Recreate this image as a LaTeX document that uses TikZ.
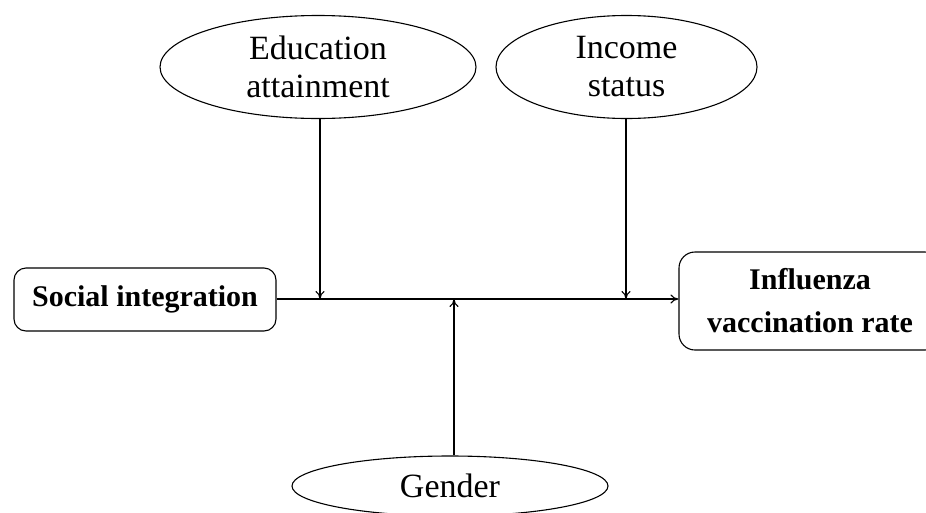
\documentclass[tikz,border=0pt]{standalone}
\usepackage{fontspec}
\setmainfont{Liberation Serif}
\usetikzlibrary{shapes.geometric,arrows.meta}
\begin{document}
\begin{tikzpicture}[x=1pt,y=-1pt,
  oval/.style={draw,ellipse,line width=1.1pt,inner sep=0pt,minimum width=316pt,minimum height=103pt,align=center,font=\fontsize{34}{38}\selectfont},
  rbox/.style={draw,rounded corners=12pt,line width=1.1pt,inner sep=0pt,align=center,font=\bfseries\fontsize{30}{43}\selectfont},
  conn/.style={line width=1.1pt},
  arr/.style={conn,-{To[length=8pt,width=9pt]}}]
\useasboundingbox (0,0) rectangle (926,512);
\node[oval] (edu) at (318,67) {Education\\attainment};
\node[oval,minimum width=261pt] (inc) at (626.5,67) {Income\\status};
\node[oval,minimum height=60pt] (gen) at (450,486) {Gender};
\node[rbox,minimum width=262pt,minimum height=63pt] (soc) at (145,299.5) {Social integration};
\node[rbox,minimum width=262pt,minimum height=98pt,rounded corners=16pt] (flu) at (810,301) {Influenza\\vaccination rate};
\coordinate (je) at (320,299);
\coordinate (ji) at (626,299);
\coordinate (jg) at (454,299);
\draw[arr] (soc.east |- je) -- (flu.west |- je);
\draw[arr] (edu.south -| je) -- (je);
\draw[arr] (inc.south -| ji) -- (ji);
\draw[arr] (gen.north -| jg) -- (jg);
\end{tikzpicture}
\end{document}
